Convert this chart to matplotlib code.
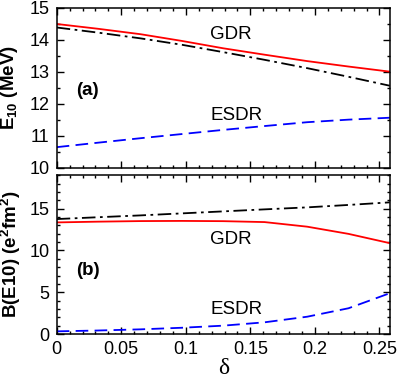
import matplotlib
matplotlib.use("Agg")
import matplotlib.pyplot as plt
from matplotlib.ticker import MultipleLocator

plt.rcParams['font.family'] = ['Liberation Sans', 'DejaVu Sans']
plt.rcParams['mathtext.fontset'] = 'custom'
plt.rcParams['mathtext.rm'] = 'Liberation Sans'
plt.rcParams['mathtext.it'] = 'Liberation Sans:italic'
plt.rcParams['mathtext.bf'] = 'Liberation Sans:bold'

# deformation grid
delta = [0.0, 0.032, 0.065, 0.097, 0.129, 0.161, 0.194, 0.226, 0.258]

# (a) energies E10 (MeV)
e_gdr = [14.50, 14.35, 14.18, 13.97, 13.74, 13.54, 13.34, 13.17, 13.01]
e_dash_dot = [14.39, 14.23, 14.05, 13.85, 13.62, 13.38, 13.12, 12.85, 12.57]
e_esdr = [10.65, 10.79, 10.93, 11.06, 11.19, 11.31, 11.43, 11.51, 11.57]

# (b) strengths B(E10) (e^2 fm^2)
b_gdr = [13.35, 13.44, 13.51, 13.53, 13.50, 13.39, 12.84, 11.98, 10.87]
b_dash_dot = [13.75, 13.97, 14.19, 14.43, 14.67, 14.91, 15.15, 15.44, 15.75]
b_esdr = [0.32, 0.42, 0.56, 0.75, 1.00, 1.40, 2.07, 3.08, 4.88]

xticks = [0, 0.05, 0.1, 0.15, 0.2, 0.25]
xticklabels = ['0', '0.05', '0.1', '0.15', '0.2', '0.25']

fig = plt.figure(figsize=(3.97, 3.80), dpi=100)
L, W = 0.1428, 0.839
ax1 = fig.add_axes([L, 0.558, W, 0.421])
ax2 = fig.add_axes([L, 0.121, W, 0.418])

lw = 1.3
dash = (0, (7, 3.5))
dashdot = (0, (7.5, 2.5, 1.5, 2.5))

ax1.plot(delta, e_gdr, color='#ff0000', lw=lw)
ax1.plot(delta, e_dash_dot, color='black', lw=lw, linestyle=dashdot)
ax1.plot(delta, e_esdr, color='#0000ff', lw=lw, linestyle=dash)

ax2.plot(delta, b_gdr, color='#ff0000', lw=lw)
ax2.plot(delta, b_dash_dot, color='black', lw=lw, linestyle=dashdot)
ax2.plot(delta, b_esdr, color='#0000ff', lw=lw, linestyle=dash)

fs_tick = 13
fs_text = 13.5

for ax in (ax1, ax2):
    ax.set_xlim(0, 0.258)
    ax.set_xticks(xticks)
    ax.xaxis.set_minor_locator(MultipleLocator(0.01))
    ax.tick_params(which='both', direction='in', top=True, right=True,
                   labelsize=fs_tick, width=1.0)
    ax.tick_params(which='major', length=5, pad=5)
    ax.tick_params(which='minor', length=2.5)
    for s in ax.spines.values():
        s.set_linewidth(1.1)

ax1.set_ylim(10, 15)
ax1.yaxis.set_major_locator(MultipleLocator(1))
ax1.yaxis.set_minor_locator(MultipleLocator(0.5))
ax1.tick_params(labelbottom=False)

ax2.set_ylim(0, 19)
ax2.yaxis.set_major_locator(MultipleLocator(5))
ax2.yaxis.set_minor_locator(MultipleLocator(1))
ax2.set_xticklabels(xticklabels)

ax1.set_ylabel(r'$\mathbf{E_{10}}$ (MeV)', fontsize=13.5, fontweight='bold')
ax1.yaxis.set_label_coords(-0.110, 0.5)
ax2.set_ylabel(r'B(E10) (e$^\mathbf{2}$fm$^\mathbf{2}$)', fontsize=13.5, fontweight='bold')
ax2.yaxis.set_label_coords(-0.101, 0.5)
ax2.set_xlabel('δ', fontsize=17, family=['Liberation Serif', 'DejaVu Serif'], labelpad=0)

ax1.text(0.135, 14.16, 'GDR', fontsize=fs_text, ha='center', va='center')
ax1.text(0.139, 11.64, 'ESDR', fontsize=fs_text, ha='center', va='center')
ax1.text(0.024, 12.42, '(a)', fontsize=fs_text, ha='center', va='center', fontweight='bold')

ax2.text(0.135, 11.27, 'GDR', fontsize=fs_text, ha='center', va='center')
ax2.text(0.139, 2.88, 'ESDR', fontsize=fs_text, ha='center', va='center')
ax2.text(0.024, 7.61, '(b)', fontsize=fs_text, ha='center', va='center', fontweight='bold')

fig.savefig('out.png', dpi=100)
